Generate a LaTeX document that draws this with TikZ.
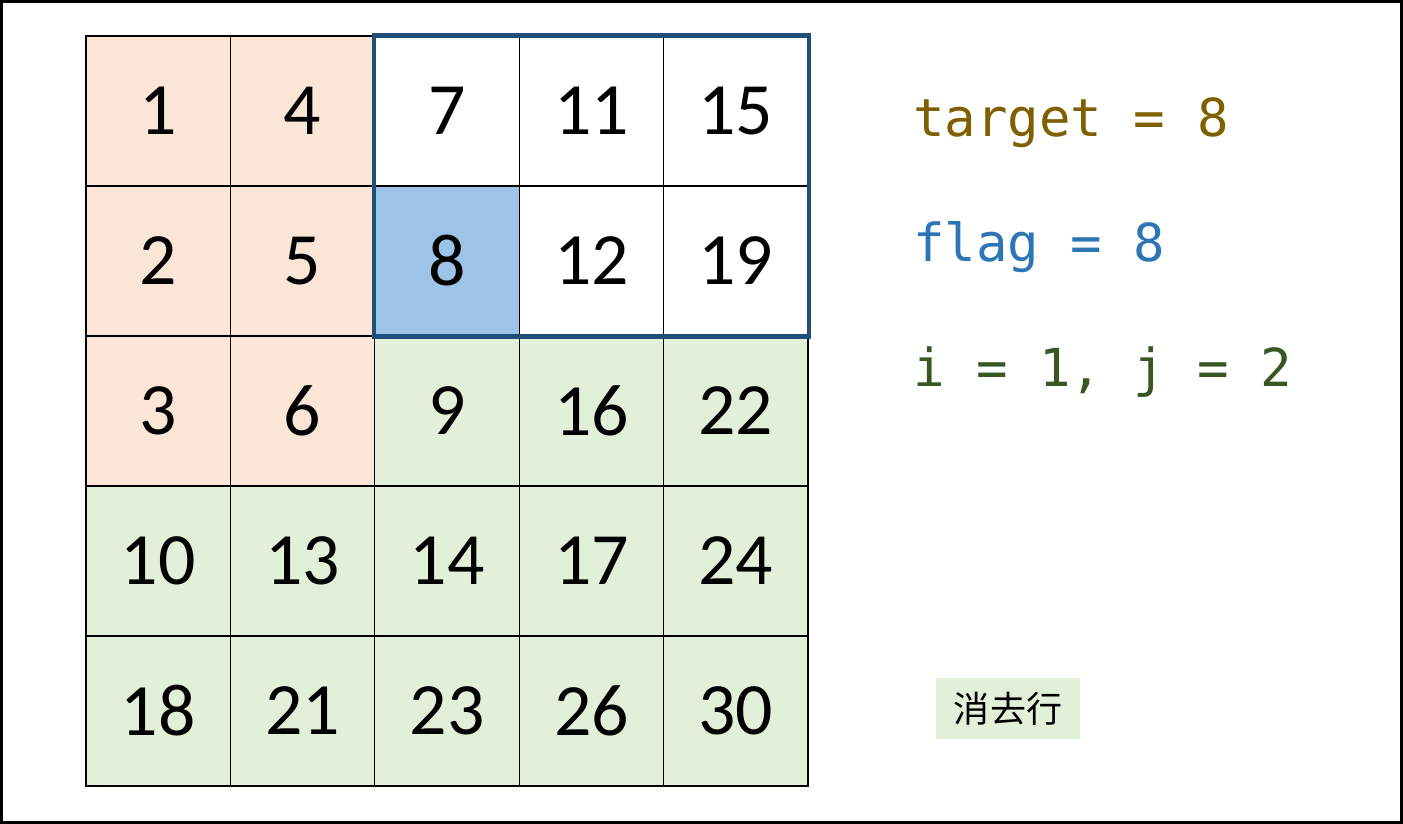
\documentclass[tikz,border=0pt]{standalone}
\usepackage{fontspec}
\setmainfont{Carlito}
\newfontfamily\codefont{DejaVu Sans Mono}
\newfontfamily\cjk{Noto Sans CJK SC}
\usetikzlibrary{positioning}
\definecolor{peach}{HTML}{FBE5D6}
\definecolor{mint}{HTML}{E2F0D9}
\definecolor{skyblue}{HTML}{9DC3E6}
\definecolor{framenavy}{HTML}{1F4E79}
\definecolor{targetbrown}{HTML}{7F6000}
\definecolor{flagblue}{HTML}{2E75B6}
\definecolor{indexgreen}{HTML}{385723}
\tikzset{
  cell/.style={draw=black,line width=0.6pt,minimum width=2.888cm,minimum height=3cm,
    inner sep=0pt,font=\fontsize{42}{42}\selectfont},
  p/.style={fill=peach},
  w/.style={fill=white},
  b/.style={fill=skyblue},
  g/.style={fill=mint},
  codeline/.style={anchor=base west,inner sep=0pt,font=\codefont\fontsize{29.8}{29.8}\selectfont}
}

\begin{document}
\begin{tikzpicture}[x=0.02cm,y=-0.02cm]
  \useasboundingbox (0,0) rectangle (1403,824);
  % outer frame
  \draw[line width=1.7pt,color=black] (1.5,1.5) rectangle (1401.5,822.5);
  % matrix cells
  \foreach \r/\row in {0/{1/p,4/p,7/w,11/w,15/w},
                       1/{2/p,5/p,8/b,12/w,19/w},
                       2/{3/p,6/p,9/g,16/g,22/g},
                       3/{10/g,13/g,14/g,17/g,24/g},
                       4/{18/g,21/g,23/g,26/g,30/g}}{
    \foreach \v/\f [count=\c from 0] in \row{
      \node[cell,\f] (c-\r-\c) at ({86+144.4*(\c+0.5)},{36+150*(\r+0.5)}) {\raisebox{-2.5pt}{\v}};
    }
  }
  % search window
  \draw[line width=2.3pt,color=framenavy] (c-0-2.north west) rectangle (c-1-4.south east);
  % variables
  \node[codeline,color=targetbrown] (target) at (913,137) {target = 8};
  \node[codeline,color=flagblue] (flag) at (913,262) {flag = 8};
  \node[codeline,color=indexgreen] (index) at (913,386) {i = 1, j = 2};
  % legend
  \node[fill=mint,minimum width=2.88cm,minimum height=1.22cm,inner sep=0pt,
    font=\cjk\fontsize{20.5}{20.5}\selectfont] (legend) at (1008,708.5) {消去行};
\end{tikzpicture}
\end{document}
